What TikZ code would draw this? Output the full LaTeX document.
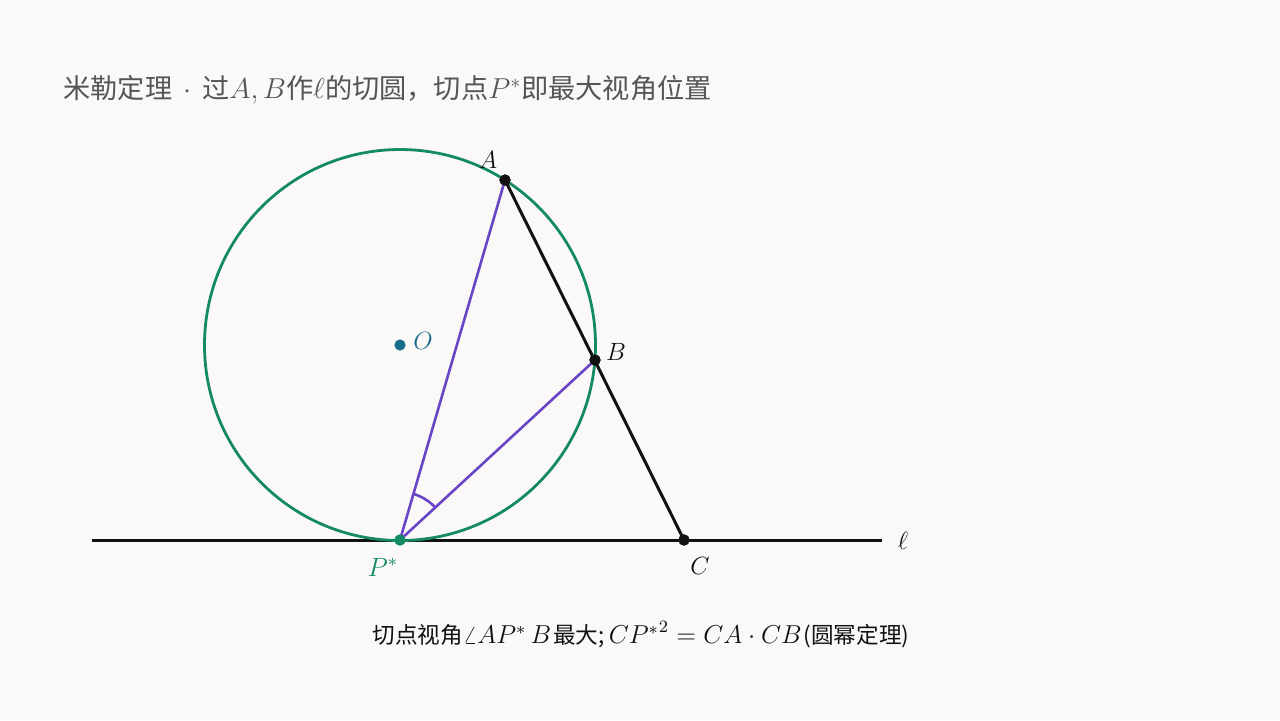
\documentclass[tikz,border=0pt]{standalone}
\usepackage{graphicx}
\usepackage{fontspec}
\newfontfamily\cjk{Noto Sans CJK SC}
\usetikzlibrary{calc}
\definecolor{bg}{HTML}{FAF9F7}
\definecolor{circgreen}{HTML}{138A62}
\definecolor{purp}{HTML}{6A44C6}
\definecolor{oblue}{HTML}{1B6B8C}
\definecolor{titlegray}{HTML}{555555}
\definecolor{ink}{HTML}{111111}
\newcommand{\tm}[1]{{\fontsize{14.4}{16}\selectfont$#1$}}
\newcommand{\bm}[1]{{\fontsize{12}{15}\selectfont\scalebox{1.08}{$#1$}}}
\tikzset{
  blackline/.style={draw=ink, line width=1.5pt},
  purpline/.style={draw=purp, line width=1.3pt},
  dotblack/.style={circle, fill=ink, inner sep=0pt, minimum size=5.6pt},
  dotgreen/.style={circle, fill=circgreen, inner sep=0pt, minimum size=5.6pt},
  lbl/.style={font=\fontsize{12}{14}\selectfont, text=ink},
}
\begin{document}
\begin{tikzpicture}[x=0.5pt,y=-0.5pt]
\useasboundingbox (0,0) rectangle (1280,720);
\fill[bg] (0,0) rectangle (1280,720);
% title
\node[anchor=west, text=titlegray, font=\cjk\fontsize{13.6}{15}\selectfont, inner sep=0pt] (title) at (63,90)
  {米勒定理\hspace{5.5pt}\tm{\cdot}\hspace{5.5pt}过\tm{A,B}作\tm{\ell}的切圆，切点\tm{P^*}即最大视角位置};
% coordinates
\coordinate (O) at (400,345);
\coordinate (L1) at (92,540);
\coordinate (L2) at (882,540);
% line l
\draw[blackline] (L1) -- (L2);
% circle
\draw[circgreen, line width=1.4pt] (O) circle[radius=195.5];
% nodes
\node[dotblack] (A) at (505,180) {};
\node[dotblack] (B) at (595,360) {};
\node[dotblack] (C) at (684,540) {};
\node[dotgreen] (P) at (400,540) {};
\node[circle, fill=oblue, inner sep=0pt, minimum size=5.6pt] (Od) at (O) {};
% lines
\draw[purpline] (P.center) -- (A.center);
\draw[purpline] (P.center) -- (B.center);
\draw[blackline] (A.center) -- (C.center);
% angle arc
\draw[purp, line width=1.3pt] ($(P.center)+(-73.7:48)$) arc[start angle=-73.7, end angle=-42.7, radius=48];
% redraw dots on top
\node[dotblack] at (A) {};
\node[dotblack] at (B) {};
\node[dotblack] at (C) {};
\node[dotgreen] at (P) {};
% labels
\node[lbl] (lA) at (488,160) {\scalebox{1.04}{$A$}};
\node[lbl] (lB) at (616,352) {\scalebox{1.04}{$B$}};
\node[lbl] (lC) at (700,566) {\scalebox{1.04}{$C$}};
\node[lbl, text=circgreen] (lP) at (383,567) {\scalebox{1.1}{$P^*$}};
\node[lbl, text=oblue] (lO) at (423,341) {\scalebox{1.04}{$O$}};
\node[lbl] (ll) at (903,541) {\scalebox{1.04}{$\ell$}};
% bottom
\node[text=ink, font=\cjk\fontsize{11.3}{13}\selectfont, inner sep=0pt] (bottom) at (641,635)
  {切点视角\bm{\angle AP^*\,B}\hspace{1pt}最大;\hspace{2pt}\bm{{CP^*}^{2}=CA\cdot CB}\hspace{1pt}(圆幂定理)};
\end{tikzpicture}
\end{document}
